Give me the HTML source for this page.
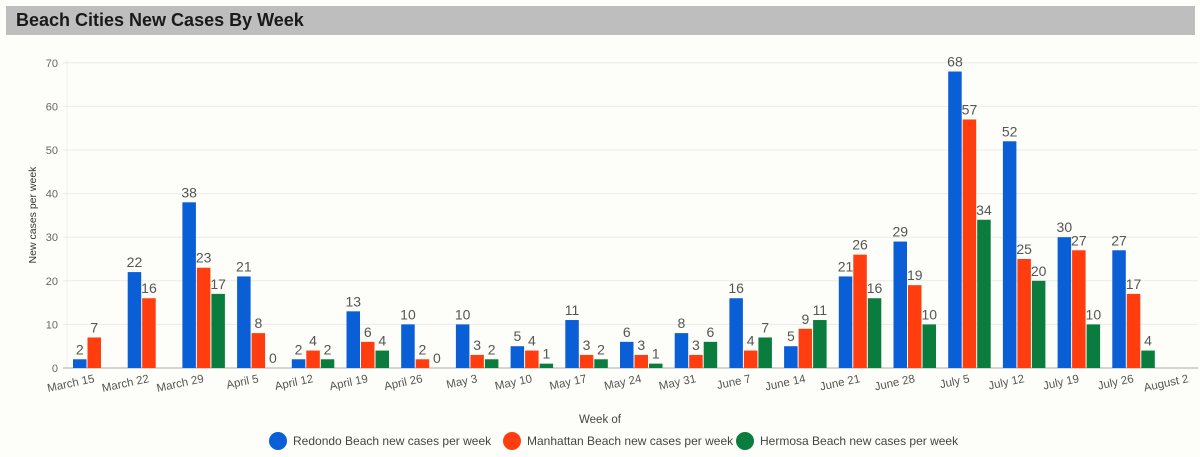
<!DOCTYPE html>
<html><head><meta charset="utf-8"><style>
body{margin:0;background:#fdfdf9;font-family:"Liberation Sans",sans-serif;}
#wrap{position:relative;width:1200px;height:457px;overflow:hidden;}
#title{position:absolute;left:6px;top:6px;width:1189px;height:29px;background:#bebebe;}
#title span{position:absolute;left:10px;top:4px;font-weight:bold;font-size:18px;color:#1a1a1a;}
svg{position:absolute;left:0;top:0;}
</style></head><body>
<div id="wrap">
<div id="title"><span>Beach Cities New Cases By Week</span></div>
<svg id="chart" width="1200" height="457"></svg>
</div>
<script>
const categories=["March 15","March 22","March 29","April 5","April 12","April 19","April 26","May 3","May 10","May 17","May 24","May 31","June 7","June 14","June 21","June 28","July 5","July 12","July 19","July 26","August 2"];
const redondo=[2,22,38,21,2,13,10,10,5,11,6,8,16,5,21,29,68,52,30,27];
const manhattan=[7,16,23,8,4,6,2,3,4,3,3,3,4,9,26,19,57,25,27,17];
const hermosa=[null,null,17,0,2,4,0,2,1,2,1,6,7,11,16,10,34,20,10,4];
const yTicks=[0,10,20,30,40,50,60,70];
const seriesNames=["Redondo Beach new cases per week","Manhattan Beach new cases per week","Hermosa Beach new cases per week"];
const colors=["#0a5ed6","#ff3d0e","#0a7d3e"];
const NS="http://www.w3.org/2000/svg";
const svg=document.getElementById('chart');
function mk(t,a,txt){const e=document.createElementNS(NS,t);for(const k in a)e.setAttribute(k,a[k]);if(txt!==undefined)e.textContent=txt;svg.appendChild(e);return e;}
const y0=368,yPer=4.36,x0=73,step=54.7,bw=13.5,gap=1;
const y=v=>y0-v*yPer;
const gx=i=>x0+i*step;
mk('line',{x1:67,x2:67,y1:60,y2:y0,stroke:'#eeeeea'});
yTicks.forEach(t=>{
 const l=mk('line',{x1:63,x2:1198,y1:y(t),y2:y(t),stroke:t===0?'#aaaaaa':'#ebebe6'});
 
 const tx=mk('text',{x:58,y:y(t)+4,'text-anchor':'end','font-size':11,fill:'#666'},t);
 
});
[redondo,manhattan,hermosa].forEach((s,si)=>{
 s.forEach((v,i)=>{
  if(v===null)return;
  const bx=gx(i)+si*(bw+gap);
  if(v>0){const r=mk('rect',{x:bx,y:y(v),width:bw,height:v*yPer,fill:colors[si]});
   }
  const t=mk('text',{x:bx+bw/2,y:y(v)-5,'text-anchor':'middle','font-size':14,fill:'#555'},v);
  
 });
});
categories.forEach((c,i)=>{
 const cx=gx(i)+22,cy=382;
 const t=mk('text',{x:cx,y:cy,'text-anchor':'end','font-size':11.5,fill:'#555',transform:`rotate(-12 ${cx} ${cy})`},c);
 
});
let t=mk('text',{x:36,y:215,'text-anchor':'middle','font-size':10.5,fill:'#333',transform:'rotate(-90 36 215)'},'New cases per week');

t=mk('text',{x:600,y:423,'text-anchor':'middle','font-size':11.5,fill:'#444'},'Week of');

const lx=[278,512,745];
seriesNames.forEach((n,i)=>{
 const c=mk('circle',{cx:lx[i],cy:441,r:9,fill:colors[i]});
 
 const tt=mk('text',{x:lx[i]+15,y:445,'font-size':12,fill:'#444'},n);
 
});
</script>
</body></html>
